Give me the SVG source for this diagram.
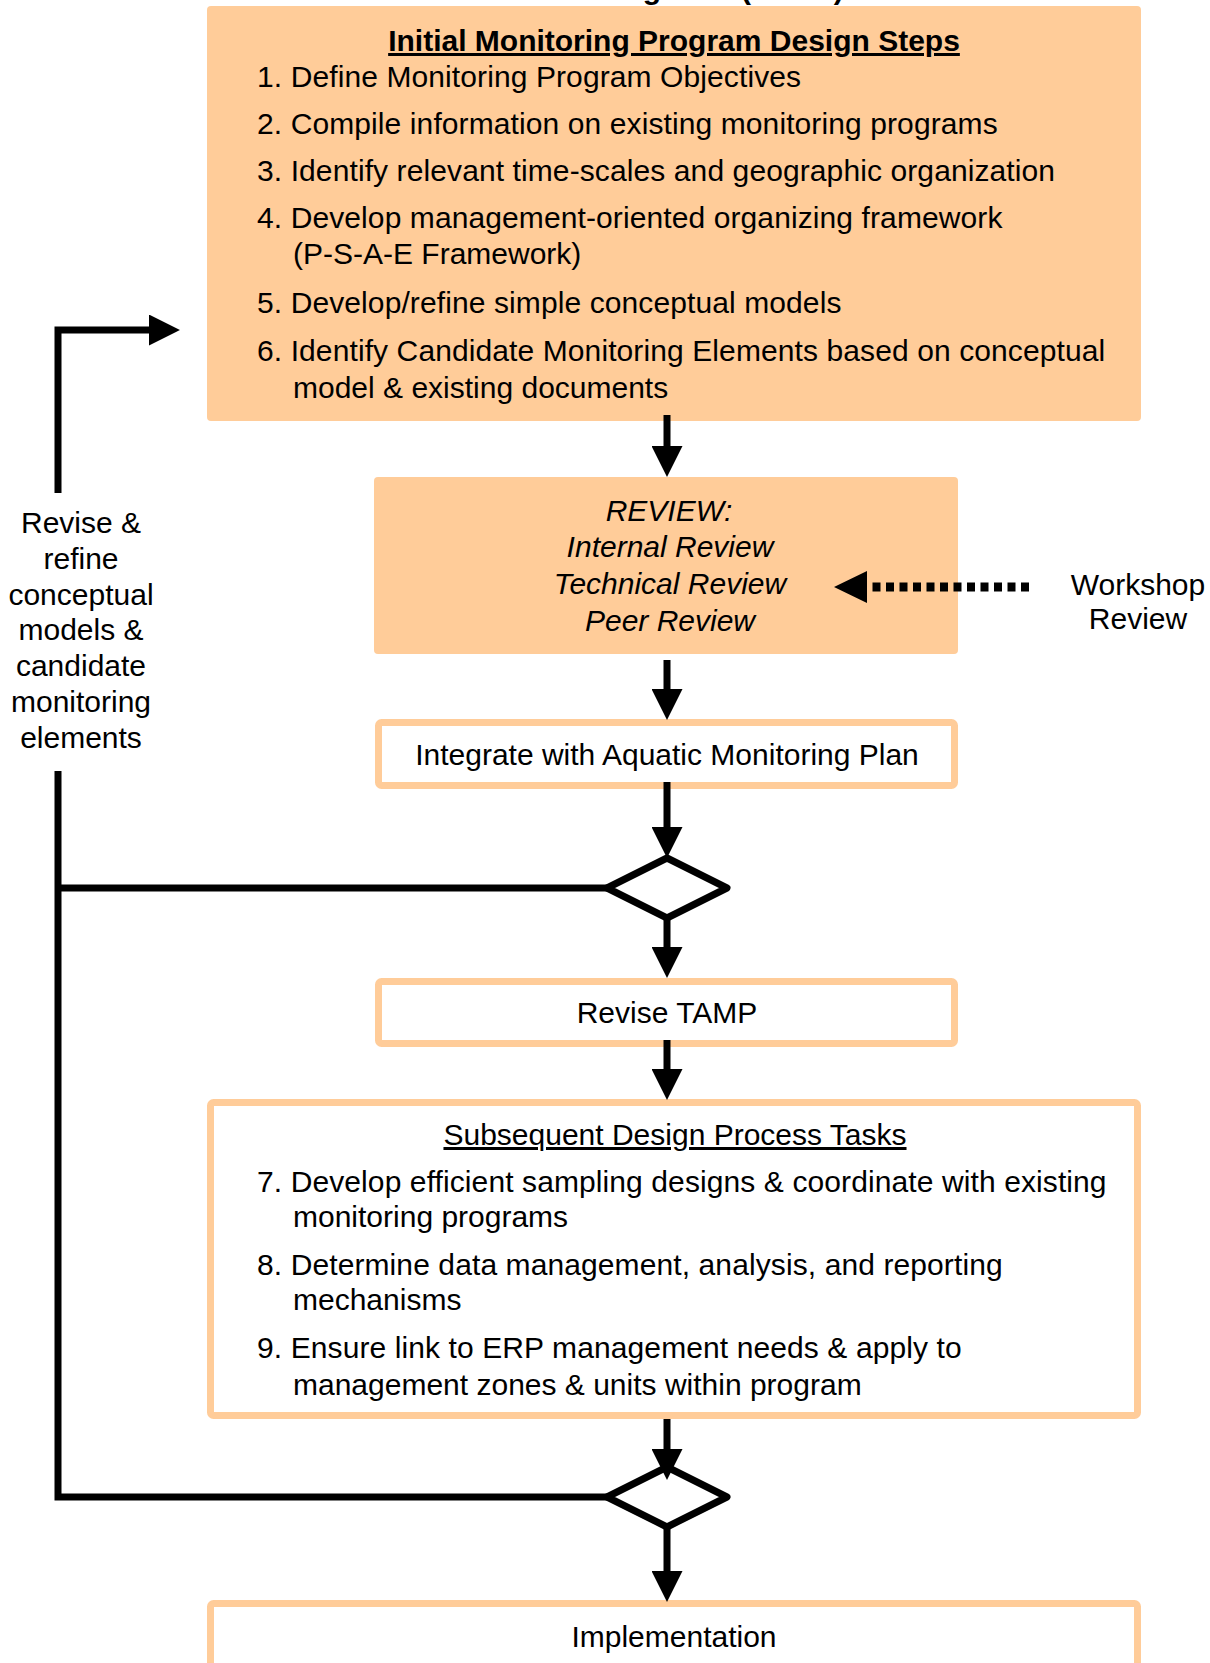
<svg xmlns="http://www.w3.org/2000/svg" width="1210" height="1663" viewBox="0 0 1210 1663">
  <style>
    .t { font-family: "Liberation Sans", Arial, sans-serif; font-size: 30px; fill: #000; }
    .b { font-weight: bold; }
    .i { font-style: italic; }
    .u { text-decoration: underline; }
    .m { text-anchor: middle; }
    .solid { fill: #FFCC99; }
    .frame { fill: #fff; stroke: #FFCC99; stroke-width: 7; }
    .ln { fill: none; stroke: #000; stroke-width: 7; stroke-linejoin: miter; }
    .dia { fill: #fff; stroke: #000; stroke-width: 7; stroke-linejoin: round; }
  </style>
  <defs>
    <marker id="ah" markerUnits="userSpaceOnUse" markerWidth="31" markerHeight="31" viewBox="0 0 30 30" refX="1" refY="15" orient="auto">
      <path d="M0,0 L30,15 L0,30 Z" fill="#000"/>
    </marker>
  </defs>

  <rect width="1210" height="1663" fill="#fff"/>

  <!-- heading, mostly above the page edge -->
  <text class="t b m" x="675" y="-1" font-size="40">Monitoring Plan (TAMP)</text>

  <g id="initial-steps">
    <rect class="solid" x="207" y="6" width="934" height="415" rx="4"/>
    <text class="t b u m" x="674" y="51">Initial Monitoring Program Design Steps</text>
    <text class="t" x="257" y="87" letter-spacing="0.1">1. Define Monitoring Program Objectives</text>
    <text class="t" x="257" y="134" letter-spacing="0.1">2. Compile information on existing monitoring programs</text>
    <text class="t" x="257" y="181" letter-spacing="0.1">3. Identify relevant time-scales and geographic organization</text>
    <text class="t" x="257" y="228" letter-spacing="0.1">4. Develop management-oriented organizing framework</text>
    <text class="t" x="293" y="264">(P-S-A-E Framework)</text>
    <text class="t" x="257" y="313" letter-spacing="0.1">5. Develop/refine simple conceptual models</text>
    <text class="t" x="257" y="361" letter-spacing="0.1">6. Identify Candidate Monitoring Elements based on conceptual</text>
    <text class="t" x="293" y="398">model &amp; existing documents</text>
  </g>

  <g id="review">
    <rect class="solid" x="374" y="477" width="584" height="177" rx="4"/>
    <text class="t i m" x="669" y="521">REVIEW:</text>
    <text class="t i m" x="670" y="557">Internal Review</text>
    <text class="t i m" x="670" y="594">Technical Review</text>
    <text class="t i m" x="670" y="631">Peer Review</text>
  </g>

  <g id="workshop-review">
    <text class="t m" x="1138" y="595">Workshop</text>
    <text class="t m" x="1138" y="629">Review</text>
  </g>

  <g id="revise-label">
    <text class="t m" x="81" y="533">Revise &amp;</text>
    <text class="t m" x="81" y="569">refine</text>
    <text class="t m" x="81" y="605">conceptual</text>
    <text class="t m" x="81" y="640">models &amp;</text>
    <text class="t m" x="81" y="676">candidate</text>
    <text class="t m" x="81" y="712">monitoring</text>
    <text class="t m" x="81" y="748">elements</text>
  </g>

  <g id="integrate">
    <rect class="frame" x="378.5" y="722.5" width="576" height="63" rx="3"/>
    <text class="t m" x="667" y="765">Integrate with Aquatic Monitoring Plan</text>
  </g>

  <g id="decision-1">
    <polygon class="dia" points="667,858 727,888 667,918 607,888"/>
  </g>

  <g id="revise-tamp">
    <rect class="frame" x="378.5" y="981.5" width="576" height="62" rx="3"/>
    <text class="t m" x="667" y="1023">Revise TAMP</text>
  </g>

  <g id="subsequent-tasks">
    <rect class="frame" x="210.5" y="1102.5" width="927" height="313" rx="3"/>
    <text class="t u m" x="675" y="1145">Subsequent Design Process Tasks</text>
    <text class="t" x="257" y="1192" letter-spacing="0.1">7. Develop efficient sampling designs &amp; coordinate with existing</text>
    <text class="t" x="293" y="1227">monitoring programs</text>
    <text class="t" x="257" y="1275" letter-spacing="0.1">8. Determine data management, analysis, and reporting</text>
    <text class="t" x="293" y="1310">mechanisms</text>
    <text class="t" x="257" y="1358" letter-spacing="0.1">9. Ensure link to ERP management needs &amp; apply to</text>
    <text class="t" x="293" y="1395">management zones &amp; units within program</text>
  </g>

  <g id="decision-2">
    <polygon class="dia" points="667,1467 727,1497 667,1527 607,1497"/>
  </g>

  <g id="implementation">
    <rect class="frame" x="210.5" y="1603.5" width="927" height="90" rx="3"/>
    <text class="t m" x="674" y="1647">Implementation</text>
  </g>

  <g id="connectors">
    <!-- main flow -->
    <path class="ln" d="M667,415 V447" marker-end="url(#ah)"/>
    <path class="ln" d="M667,660 V690" marker-end="url(#ah)"/>
    <path class="ln" d="M667,782 V828" marker-end="url(#ah)"/>
    <path class="ln" d="M667,918 V948" marker-end="url(#ah)"/>
    <path class="ln" d="M667,1040 V1070" marker-end="url(#ah)"/>
    <path class="ln" d="M667,1419 V1450" marker-end="url(#ah)"/>
    <path class="ln" d="M667,1527 V1572" marker-end="url(#ah)"/>
    <!-- feedback loop back to the design steps -->
    <path class="ln" d="M58,493 V330 H150" marker-end="url(#ah)"/>
    <path class="ln" d="M607,888 H58"/>
    <path class="ln" d="M58,771 V1497 H607" stroke-linejoin="round"/>
    <!-- workshop input -->
    <line x1="1029" y1="587" x2="871" y2="587" stroke="#000" stroke-width="9" stroke-dasharray="8 5.5"/>
    <polygon points="834,587 867,571 867,603" fill="#000"/>
  </g>
</svg>
